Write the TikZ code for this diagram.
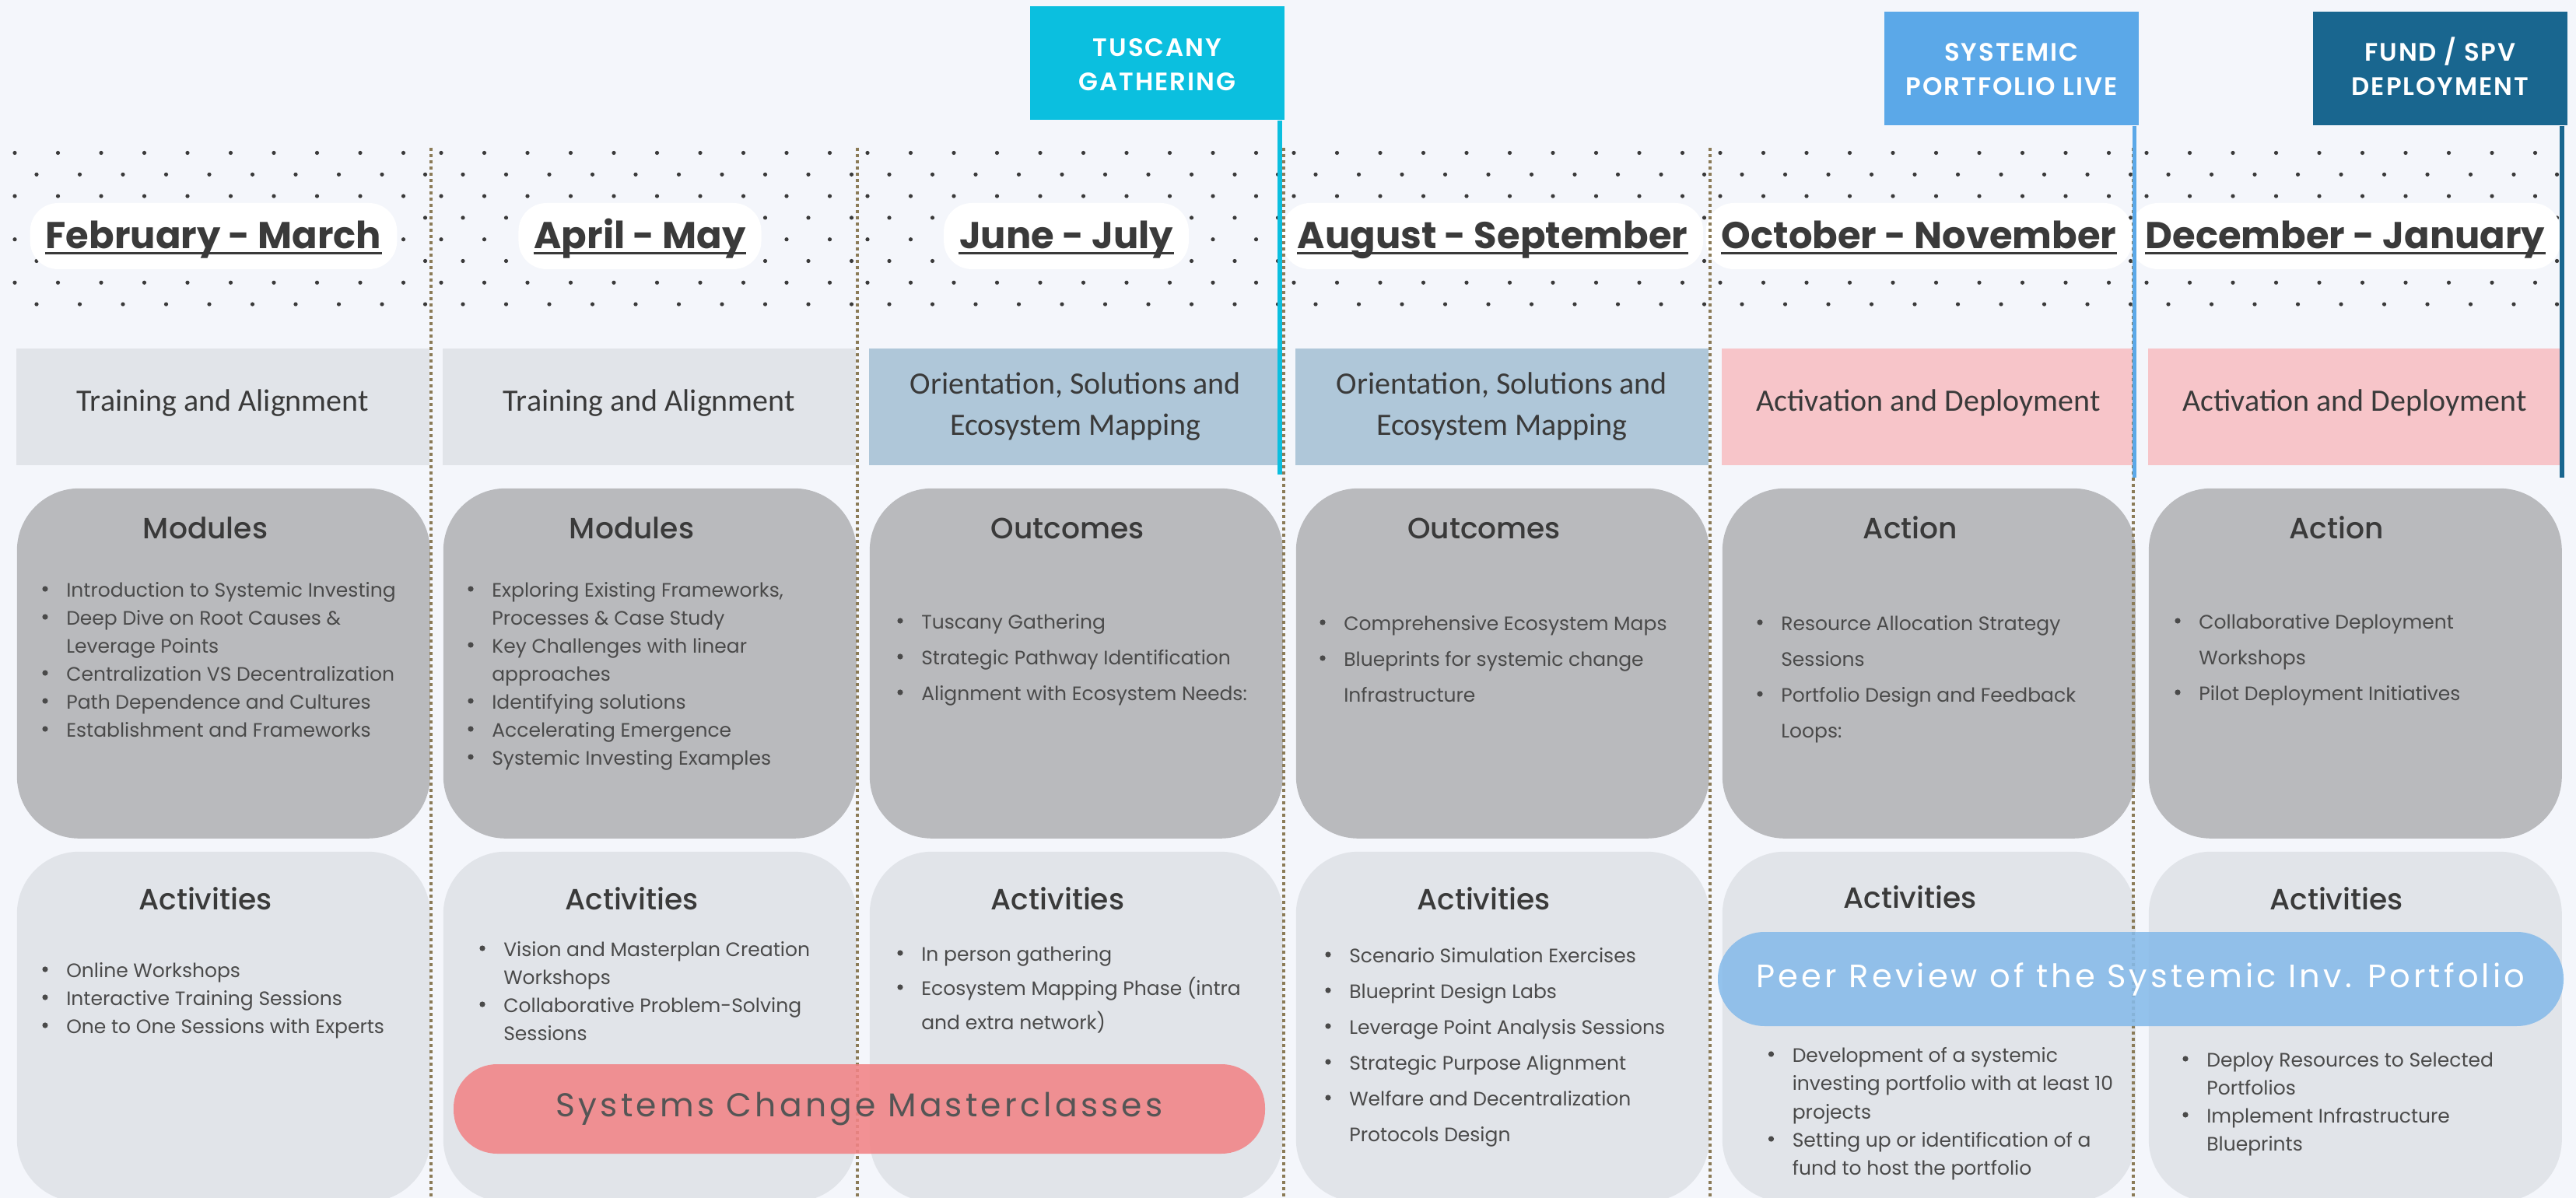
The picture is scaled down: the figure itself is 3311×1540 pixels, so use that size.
\documentclass[tikz,border=0pt]{standalone}
\usepackage{fontspec}
\setmainfont{Poppins}
\newfontfamily\popmed{Poppins Medium}
\newfontfamily\carl{Carlito}
\newfontfamily\popls{Poppins}[LetterSpace=10]
\newfontfamily\popflag{Poppins SemiBold}[LetterSpace=6]
\definecolor{bgc}{HTML}{F4F6FB}
\definecolor{cardD}{HTML}{B9BABD}
\definecolor{cardL}{HTML}{E1E4E9}
\definecolor{bandG}{HTML}{E1E4E9}
\definecolor{bandB}{HTML}{AFC7D9}
\definecolor{bandP}{HTML}{F7C5C9}
\definecolor{tus}{HTML}{0BBFDF}
\definecolor{sysb}{HTML}{5BA8E8}
\definecolor{fund}{HTML}{19668F}
\definecolor{mcls}{HTML}{F28486}
\definecolor{peer}{HTML}{86BBEA}
\definecolor{dotc}{HTML}{3A3A3A}
\definecolor{sepc}{HTML}{8B7B57}
\definecolor{txt}{HTML}{3A3A3A}
\definecolor{btxt}{HTML}{4A4A4A}
\definecolor{mtxt}{HTML}{555555}
\newcommand{\myb}[4]{%
  \fill[btxt] (#2,#3) circle[radius=0.9pt];
  \node[btext] (#1) at (#2+26.5,#3) {#4};}
\newcommand{\myc}[4]{\node[btext] (#1) at (#2+26.5,#3) {#4};}
\begin{document}
\begin{tikzpicture}[x=0.25pt,y=-0.25pt,
  btext/.style={anchor=mid west, inner sep=0, text=btxt, font=\fontsize{6.25}{8}\selectfont},
  head/.style={anchor=base, inner sep=0, text=txt, font=\popmed\fontsize{9.4}{11}\selectfont},
  datepill/.style={fill=white, rounded corners=9pt, inner xsep=5pt, inner ysep=0pt,
    minimum height=21.25pt, text height=8.4pt, text depth=0.3pt, text=txt,
    font=\bfseries\fontsize{12}{14}\selectfont},
  ulin/.style={draw=txt, line width=0.75pt},
  flagbox/.style={minimum width=81.75pt, minimum height=36.5pt, inner sep=0, text=white,
    align=center, text height=17.3pt, text depth=0pt, font=\popflag\fontsize{8.1}{11}\selectfont},
  pole/.style={line width=1.45pt},
  band/.style={minimum width=132.75pt, minimum height=37.5pt, inner sep=0, align=center,
    text=txt, font=\carl\fontsize{10}{13.25}\selectfont},
  bandone/.style={band, text height=6.5pt, text depth=3.5pt},
  cardU/.style={anchor=north west, fill=cardD, rounded corners=20pt, minimum width=132.75pt,
    minimum height=112.5pt, inner sep=0},
  cardB/.style={anchor=north west, fill=cardL, rounded corners=20pt, minimum width=132.75pt,
    minimum height=112.5pt, inner sep=0},
  sepline/.style={draw=sepc, line width=1pt, dash pattern=on 1pt off 1pt},
  mpill/.style={fill=mcls, fill opacity=0.88, text opacity=1, rounded corners=14pt,
    minimum width=260.75pt, minimum height=28.75pt, inner sep=0, text=mtxt,
    font=\popls\fontsize{10.6}{12}\selectfont},
  ppill/.style={fill=peer, fill opacity=0.88, text opacity=1, rounded corners=15pt,
    minimum width=271.75pt, minimum height=30.25pt, inner sep=0, text=white,
    font=\popls\fontsize{10.4}{12}\selectfont}
]
\useasboundingbox (0,0) rectangle (3311,1540);
\clip (0,0) rectangle (3311,1540);
\fill[bgc] (0,0) rectangle (3311,1540);

% dot pattern
\foreach \i in {0,...,5}{\foreach \r in {0,...,7}{\foreach \j in {0,...,9}{
  \pgfmathsetmacro\xx{21+548*\i-2+55.5*\j+28*mod(\r,2)}
  \pgfmathsetmacro\yy{196.5+27.8*\r}
  \fill[dotc] (\xx,\yy) circle[radius=0.65pt];
}}}

% date labels
\foreach \i/\t in {0/February - March,1/April - May,2/June - July,3/August - September,4/October - November,5/December - January}{
  \pgfmathsetmacro\xx{21+548*\i+265.5-12}
  \node[datepill] (d\i) at (\xx,303.5) {\t};
  \draw[ulin] ([shift={(5pt,-1.4pt)}]d\i.base west) -- ([shift={(-5pt,-1.4pt)}]d\i.base east);
}

% milestone flags
\node[flagbox, fill=tus] (f1) at (1487.5,81.5) {TUSCANY\\GATHERING};
\node[flagbox, fill=sysb] (f2) at (2585.5,88) {SYSTEMIC\\PORTFOLIO LIVE};
\node[flagbox, fill=fund] (f3) at (3136.5,88) {FUND / SPV\\DEPLOYMENT};

% phase bands
\node[bandone, fill=bandG] (p0) at (286.5,523) {Training and Alignment};
\node[bandone, fill=bandG] (p1) at (834.5,523) {Training and Alignment};
\node[band, fill=bandB] (p2) at (1382.5,523) {Orientation, Solutions and\\Ecosystem Mapping};
\node[band, fill=bandB] (p3) at (1930.5,523) {Orientation, Solutions and\\Ecosystem Mapping};
\node[bandone, fill=bandP] (p4) at (2478.5,523) {Activation and Deployment};
\node[bandone, fill=bandP] (p5) at (3026.5,523) {Activation and Deployment};

% cards
\foreach \i in {0,...,5}{
  \pgfmathsetmacro\xx{21+548*\i}
  \node[cardU] (u\i) at (\xx,627) {};
  \node[cardB] (l\i) at (\xx,1094) {};
}

% headings
\node[head] (hu0) at (264,693) {Modules};
\node[head] (hu1) at (812,693) {Modules};
\node[head] (hu2) at (1372,693) {Outcomes};
\node[head] (hu3) at (1907.5,693) {Outcomes};
\node[head] (hu4) at (2455.5,693) {Action};
\node[head] (hu5) at (3003,693) {Action};
\node[head] (hl0) at (264,1169.5) {Activities};
\node[head] (hl1) at (812,1169.5) {Activities};
\node[head] (hl2) at (1359.5,1169.5) {Activities};
\node[head] (hl3) at (1907,1169.5) {Activities};
\node[head] (hl4) at (2455,1167) {Activities};
\node[head] (hl5) at (3003,1169.5) {Activities};

% column 1
\myb{a1}{58}{757}{Introduction to Systemic Investing}
\myb{a2}{58}{793}{Deep Dive on Root Causes \&}
\myc{a3}{58}{829}{Leverage Points}
\myb{a4}{58}{865}{Centralization VS Decentralization}
\myb{a5}{58}{901}{Path Dependence and Cultures}
\myb{a6}{58}{937}{Establishment and Frameworks}
\myb{b1}{58}{1246}{Online Workshops}
\myb{b2}{58}{1282}{Interactive Training Sessions}
\myb{b3}{58}{1318}{One to One Sessions with Experts}
% column 2
\myb{c1}{605}{757}{Exploring Existing Frameworks,}
\myc{c2}{605}{793}{Processes \& Case Study}
\myb{c3}{605}{829}{Key Challenges with linear}
\myc{c4}{605}{865}{approaches}
\myb{c5}{605}{901}{Identifying solutions}
\myb{c6}{605}{937}{Accelerating Emergence}
\myb{c7}{605}{973}{Systemic Investing Examples}
\myb{e1}{620}{1219}{Vision and Masterplan Creation}
\myc{e2}{620}{1255}{Workshops}
\myb{e3}{620}{1291}{Collaborative Problem-Solving}
\myc{e4}{620}{1327}{Sessions}
% column 3
\myb{g1}{1157}{798}{Tuscany Gathering}
\myb{g2}{1157}{844}{Strategic Pathway Identification}
\myb{g3}{1157}{890}{Alignment with Ecosystem Needs:}
\myb{k1}{1157}{1225}{In person gathering}
\myb{k2}{1157}{1269}{Ecosystem Mapping Phase (intra}
\myc{k3}{1157}{1313}{and extra network)}
% column 4
\myb{m1}{1700}{800}{Comprehensive Ecosystem Maps}
\myb{m2}{1700}{846}{Blueprints for systemic change}
\myc{m3}{1700}{892}{Infrastructure}
\myb{n1}{1707}{1227}{Scenario Simulation Exercises}
\myb{n2}{1707}{1273}{Blueprint Design Labs}
\myb{n3}{1707}{1319}{Leverage Point Analysis Sessions}
\myb{n4}{1707}{1365}{Strategic Purpose Alignment}
\myb{n5}{1707}{1411}{Welfare and Decentralization}
\myc{n6}{1707}{1457}{Protocols Design}
% column 5
\myb{q1}{2262}{800}{Resource Allocation Strategy}
\myc{q2}{2262}{846}{Sessions}
\myb{q3}{2262}{892}{Portfolio Design and Feedback}
\myc{q4}{2262}{938}{Loops:}
\myb{s1}{2276.5}{1355}{Development of a systemic}
\myc{s2}{2276.5}{1391}{investing portfolio with at least 10}
\myc{s3}{2276.5}{1428}{projects}
\myb{s4}{2276.5}{1464}{Setting up or identification of a}
\myc{s5}{2276.5}{1500}{fund to host the portfolio}
% column 6
\myb{v1}{2799}{798}{Collaborative Deployment}
\myc{v2}{2799}{844}{Workshops}
\myb{v3}{2799}{890}{Pilot Deployment Initiatives}
\myb{w1}{2809}{1361}{Deploy Resources to Selected}
\myc{w2}{2809}{1397}{Portfolios}
\myb{w3}{2809}{1433}{Implement Infrastructure}
\myc{w4}{2809}{1469}{Blueprints}

% dotted separators
\foreach \xx in {554,1102,1650,2198,2742}{
  \draw[sepline] (\xx,190) -- (\xx,1540);
}

% spanning pills
\node[mpill] (mc) at (1104.5,1425.5) {Systems Change Masterclasses};
\node[ppill] (pr) at (2751.5,1258.5) {Peer Review of the Systemic Inv. Portfolio};

% flag poles
\coordinate (q1end) at (1645,610);
\coordinate (q2end) at (2743.5,614);
\coordinate (q3end) at (3293,614);
\draw[pole, draw=tus] (f1.south east -| q1end) -- (q1end);
\draw[pole, draw=sysb] (f2.south east -| q2end) -- (q2end);
\draw[pole, draw=fund] (f3.south east -| q3end) -- (q3end);
\end{tikzpicture}
\end{document}
